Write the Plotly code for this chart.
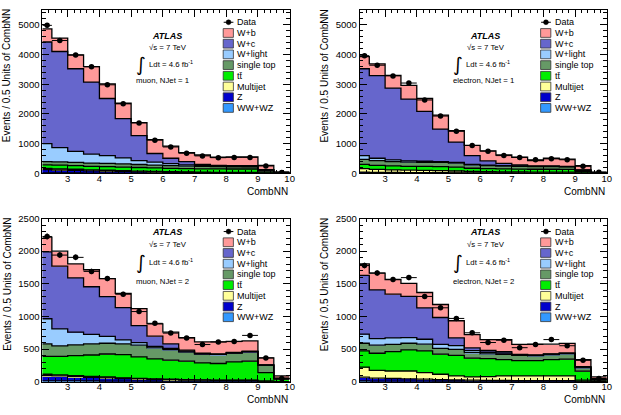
import numpy as np
import plotly.graph_objects as go

W, H = 621, 415
FONT = "Liberation Sans, Arial, Helvetica, sans-serif"

# ---------------- data ----------------
edges = [2.2, 2.5, 3.0, 3.5, 4.0, 4.5, 5.0, 5.5, 6.0, 6.5, 7.0, 7.5, 8.0, 8.5, 9.0, 9.5, 10.0]
x_ticks = [3, 4, 5, 6, 7, 8, 9, 10]

process_names = ["WW+WZ", "Z", "Multijet", "tt\u0304", "single top", "W+light", "W+c", "W+b"]
process_colors = ["#3399FF", "#0000CC", "#FFFF99", "#00EE00", "#669966", "#99CCFF", "#6666CC", "#FF9999"]
channel_labels = ["muon, NJet = 1", "electron, NJet = 1", "muon, NJet = 2", "electron, NJet = 2"]

# muon, NJet = 1
mu1_wwwz = [15, 15, 14, 13, 12, 11, 10, 9, 8, 7, 7, 6, 6, 6, 3, 1]
mu1_z = [110, 100, 90, 75, 65, 55, 45, 35, 30, 25, 20, 18, 16, 15, 7, 1]
mu1_multijet = [45, 40, 36, 32, 30, 28, 25, 22, 20, 18, 15, 14, 13, 12, 5, 1]
mu1_ttbar = [120, 125, 122, 120, 123, 121, 120, 119, 112, 110, 113, 115, 115, 117, 60, 8]
mu1_singletop = [110, 110, 108, 110, 110, 105, 100, 95, 90, 85, 80, 77, 75, 75, 35, 4]
mu1_wlight = [600, 480, 370, 300, 260, 200, 130, 100, 70, 45, 25, 15, 10, 5, 5, 0]
mu1_wc = [3420, 3230, 2780, 2420, 1920, 1320, 840, 290, 180, 110, 40, 25, 25, 30, 15, 5]
mu1_wb = [440, 450, 470, 520, 490, 520, 440, 470, 410, 300, 320, 275, 300, 300, 140, 30]
mu1_data = [4980, 4470, 3980, 3590, 2980, 2340, 1700, 1120, 890, 680, 590, 530, 540, 540, 250, 30]

# electron, NJet = 1
el1_wwwz = [12, 12, 11, 10, 10, 9, 8, 7, 6, 6, 5, 5, 5, 5, 2, 1]
el1_z = [30, 25, 22, 20, 18, 16, 14, 12, 10, 9, 8, 7, 7, 6, 3, 1]
el1_multijet = [120, 100, 90, 80, 75, 70, 60, 50, 45, 40, 35, 32, 30, 30, 15, 2]
el1_ttbar = [140, 135, 130, 130, 132, 135, 128, 106, 104, 100, 100, 96, 98, 98, 50, 6]
el1_singletop = [168, 158, 147, 140, 140, 140, 135, 110, 100, 95, 92, 88, 88, 86, 35, 4]
el1_wlight = [130, 80, 55, 40, 35, 30, 25, 15, 15, 10, 10, 7, 7, 5, 5, 1]
el1_wc = [2920, 2780, 2415, 2080, 1680, 1090, 685, 300, 140, 80, 40, 15, 15, 10, 10, 5]
el1_wb = [410, 395, 430, 460, 430, 470, 380, 345, 340, 280, 255, 185, 260, 240, 140, 25]
el1_data = [3960, 3640, 3280, 3040, 2470, 1930, 1420, 940, 750, 600, 540, 460, 490, 460, 240, 40]

# muon, NJet = 2
mu2_wwwz = [15, 14, 13, 12, 11, 10, 9, 8, 7, 7, 6, 6, 6, 6, 3, 1]
mu2_z = [80, 75, 65, 55, 50, 40, 35, 28, 25, 20, 18, 15, 15, 15, 6, 1]
mu2_multijet = [20, 18, 16, 14, 12, 10, 9, 8, 7, 6, 5, 5, 5, 5, 2, 1]
mu2_ttbar = [275, 283, 306, 329, 352, 355, 327, 306, 291, 282, 261, 254, 279, 289, 129, 37]
mu2_singletop = [190, 160, 165, 170, 165, 165, 180, 170, 160, 140, 135, 135, 135, 145, 115, 10]
mu2_wlight = [385, 260, 195, 145, 105, 60, 40, 20, 20, 15, 5, 3, 2, 2, 1, 0]
mu2_wc = [1025, 960, 830, 730, 610, 495, 260, 160, 70, 15, 10, 7, 6, 6, 2, 2]
mu2_wb = [225, 230, 215, 260, 275, 220, 260, 185, 180, 190, 170, 185, 172, 157, 107, 38]
mu2_data = [2225, 1940, 1905, 1690, 1580, 1340, 1075, 895, 745, 670, 570, 610, 615, 710, 365, 50]

# electron, NJet = 2
el2_wwwz = [12, 11, 10, 9, 9, 8, 7, 6, 6, 5, 5, 5, 5, 5, 2, 1]
el2_z = [60, 45, 40, 35, 30, 25, 20, 18, 15, 14, 12, 12, 11, 11, 5, 1]
el2_multijet = [153, 119, 115, 121, 101, 82, 63, 51, 59, 71, 73, 73, 74, 74, 18, 6]
el2_ttbar = [247, 262, 297, 322, 332, 307, 313, 288, 273, 248, 233, 233, 248, 258, 139, 22]
el2_singletop = [118, 125, 110, 103, 105, 90, 94, 84, 74, 82, 80, 75, 74, 79, 50, 5]
el2_wlight = [140, 99, 99, 86, 74, 60, 55, 30, 25, 20, 9, 5, 10, 10, 10, 2]
el2_wc = [900, 746, 671, 631, 482, 412, 120, 43, 28, 20, 8, 7, 6, 3, 8, 3]
el2_wb = [174, 258, 224, 199, 234, 199, 262, 201, 166, 186, 152, 167, 149, 147, 106, 35]
el2_data = [1780, 1665, 1566, 1595, 1307, 1133, 970, 750, 601, 636, 522, 572, 646, 552, 328, 50]

y_max = [5500, 5500, 2500, 2500]
y_major = [1000, 1000, 500, 500]
y_minor = [200, 200, 100, 100]

panel_stacks = [
    [mu1_wwwz, mu1_z, mu1_multijet, mu1_ttbar, mu1_singletop, mu1_wlight, mu1_wc, mu1_wb],
    [el1_wwwz, el1_z, el1_multijet, el1_ttbar, el1_singletop, el1_wlight, el1_wc, el1_wb],
    [mu2_wwwz, mu2_z, mu2_multijet, mu2_ttbar, mu2_singletop, mu2_wlight, mu2_wc, mu2_wb],
    [el2_wwwz, el2_z, el2_multijet, el2_ttbar, el2_singletop, el2_wlight, el2_wc, el2_wb],
]
panel_data = [mu1_data, el1_data, mu2_data, el2_data]

# ---------------- layout geometry (pixels) ----------------
boxes = [(42.7, 292.0, 4.0, 172.0), (362.7, 611.7, 4.0, 172.0),
         (42.7, 292.0, 218.3, 386.0), (362.7, 611.7, 218.3, 386.0)]
text_offsets = [(27, 39, 56, 73), (27, 39, 56, 73), (13.4, 26.7, 45, 64.4), (13.4, 26.7, 45, 64.4)]
legend_offsets = [12.7, 12.7, 13.4, 13.4]


def px(x):
    return x / W


def py(y):
    return 1 - y / H


centers = [(a + b) / 2 for a, b in zip(edges[:-1], edges[1:])]
widths = [b - a for a, b in zip(edges[:-1], edges[1:])]

fig = go.Figure()
layout = {}
shapes = []
annotations = []

legend_labels = ["Data"] + process_names[::-1]
legend_colors = [None] + process_colors[::-1]

for p in range(4):
    s = "" if p == 0 else str(p + 1)
    xa, ya = "x" + s, "y" + s
    stack = panel_stacks[p]
    data = panel_data[p]
    for vals, color, name in zip(stack, process_colors, process_names):
        fig.add_trace(go.Bar(x=centers, y=vals, width=widths, name=name,
                             marker=dict(color=color, line=dict(width=0)),
                             xaxis=xa, yaxis=ya, showlegend=False, hoverinfo="skip"))
    cum = np.cumsum(np.array(stack, dtype=float), axis=0)
    for level in cum:
        fig.add_trace(go.Scatter(x=edges, y=list(level) + [level[-1]], mode="lines",
                                 line=dict(color="black", width=1.3, shape="hv"),
                                 xaxis=xa, yaxis=ya, showlegend=False, hoverinfo="skip"))
    fig.add_trace(go.Scatter(x=centers, y=data, mode="markers", name="Data",
                             marker=dict(color="black", size=5.5),
                             error_x=dict(type="data", array=[w / 2 for w in widths],
                                          color="black", thickness=1, width=0),
                             error_y=dict(type="data", array=list(np.sqrt(data)),
                                          color="black", thickness=1, width=0),
                             xaxis=xa, yaxis=ya, showlegend=False))

    x0, x1, y0, y1 = boxes[p]
    common = dict(showline=True, linecolor="black", linewidth=1, mirror="ticks",
                  ticks="inside", ticklen=7, tickwidth=1, tickcolor="black",
                  showgrid=False, zeroline=False,
                  tickfont=dict(family=FONT, size=9.5, color="black"))
    layout["xaxis" + s] = dict(common, domain=[px(x0), px(x1)], anchor=ya,
                               range=[edges[0], edges[-1]], tickmode="array",
                               tickvals=x_ticks, ticklabelstandoff=-4,
                               minor=dict(ticks="inside", ticklen=3.5, tick0=0, dtick=0.2,
                                          tickcolor="black", tickwidth=1))
    layout["yaxis" + s] = dict(common, domain=[py(y1), py(y0)], anchor=xa,
                               range=[0, y_max[p]], tick0=0, dtick=y_major[p],
                               minor=dict(ticks="inside", ticklen=3.5, tick0=0, dtick=y_minor[p],
                                          tickcolor="black", tickwidth=1))

    # axis titles
    annotations.append(dict(text="CombNN", x=px(x1), y=py(y1 + 18.5), xref="paper", yref="paper",
                            xanchor="right", yanchor="middle", showarrow=False,
                            font=dict(family=FONT, size=10, color="black")))
    annotations.append(dict(text="Events / 0.5 Units of CombNN", x=px(x0 - 35.4), y=py(y0 - 2.5),
                            xref="paper", yref="paper", xanchor="center", yanchor="top",
                            textangle=-90, showarrow=False,
                            font=dict(family=FONT, size=10, color="black")))

    # ATLAS labels
    o_atlas, o_s, o_l, o_c = text_offsets[p]
    small = dict(family=FONT, size=7.8, color="black")
    annotations.append(dict(text="<b><i>ATLAS</i></b>", x=px(x0 + 109), y=py(y0 + o_atlas),
                            xref="paper", yref="paper", xanchor="left", yanchor="middle",
                            showarrow=False, font=dict(family=FONT, size=9, color="black")))
    annotations.append(dict(text="\u221as = 7 TeV", x=px(x0 + 105.7), y=py(y0 + o_s),
                            xref="paper", yref="paper", xanchor="left", yanchor="middle",
                            showarrow=False, font=small))
    annotations.append(dict(text="\u222b", x=px(x0 + 99.5), y=py(y0 + o_l),
                            xref="paper", yref="paper", xanchor="center", yanchor="middle",
                            showarrow=False, font=dict(family="DejaVu Sans", size=19, color="black")))
    annotations.append(dict(text="Ldt = 4.6 fb<sup>-1</sup>", x=px(x0 + 105.3), y=py(y0 + o_l),
                            xref="paper", yref="paper", xanchor="left", yanchor="middle",
                            showarrow=False, font=small))
    annotations.append(dict(text=channel_labels[p], x=px(x0 + 92.3), y=py(y0 + o_c),
                            xref="paper", yref="paper", xanchor="left", yanchor="middle",
                            showarrow=False, font=small))

    # legend (drawn manually to match ROOT spacing)
    for i, (lab, col) in enumerate(zip(legend_labels, legend_colors)):
        yc = y0 + legend_offsets[p] + 11.0 * i
        if col is None:
            shapes.append(dict(type="line", xref="paper", yref="paper",
                               x0=px(x0 + 182.8), x1=px(x0 + 192.6), y0=py(yc), y1=py(yc),
                               line=dict(color="black", width=1)))
            shapes.append(dict(type="circle", xref="paper", yref="paper",
                               x0=px(x0 + 185.2), x1=px(x0 + 190.2), y0=py(yc + 2.5), y1=py(yc - 2.5),
                               fillcolor="black", line=dict(color="black", width=0.5)))
        else:
            shapes.append(dict(type="rect", xref="paper", yref="paper",
                               x0=px(x0 + 182.3), x1=px(x0 + 192.6), y0=py(yc + 4.5), y1=py(yc - 4.5),
                               fillcolor=col, line=dict(color="#333333", width=0.8)))
        annotations.append(dict(text=lab, x=px(x0 + 194.5), y=py(yc), xref="paper", yref="paper",
                                xanchor="left", yanchor="middle", showarrow=False,
                                font=dict(family=FONT, size=9, color="black")))

fig.update_layout(**layout)
fig.update_layout(width=W, height=H, margin=dict(l=0, r=0, t=0, b=0),
                  barmode="stack", bargap=0, showlegend=False,
                  paper_bgcolor="white", plot_bgcolor="white",
                  shapes=shapes, annotations=annotations,
                  font=dict(family=FONT, color="black"))

fig.write_html("out.html")
